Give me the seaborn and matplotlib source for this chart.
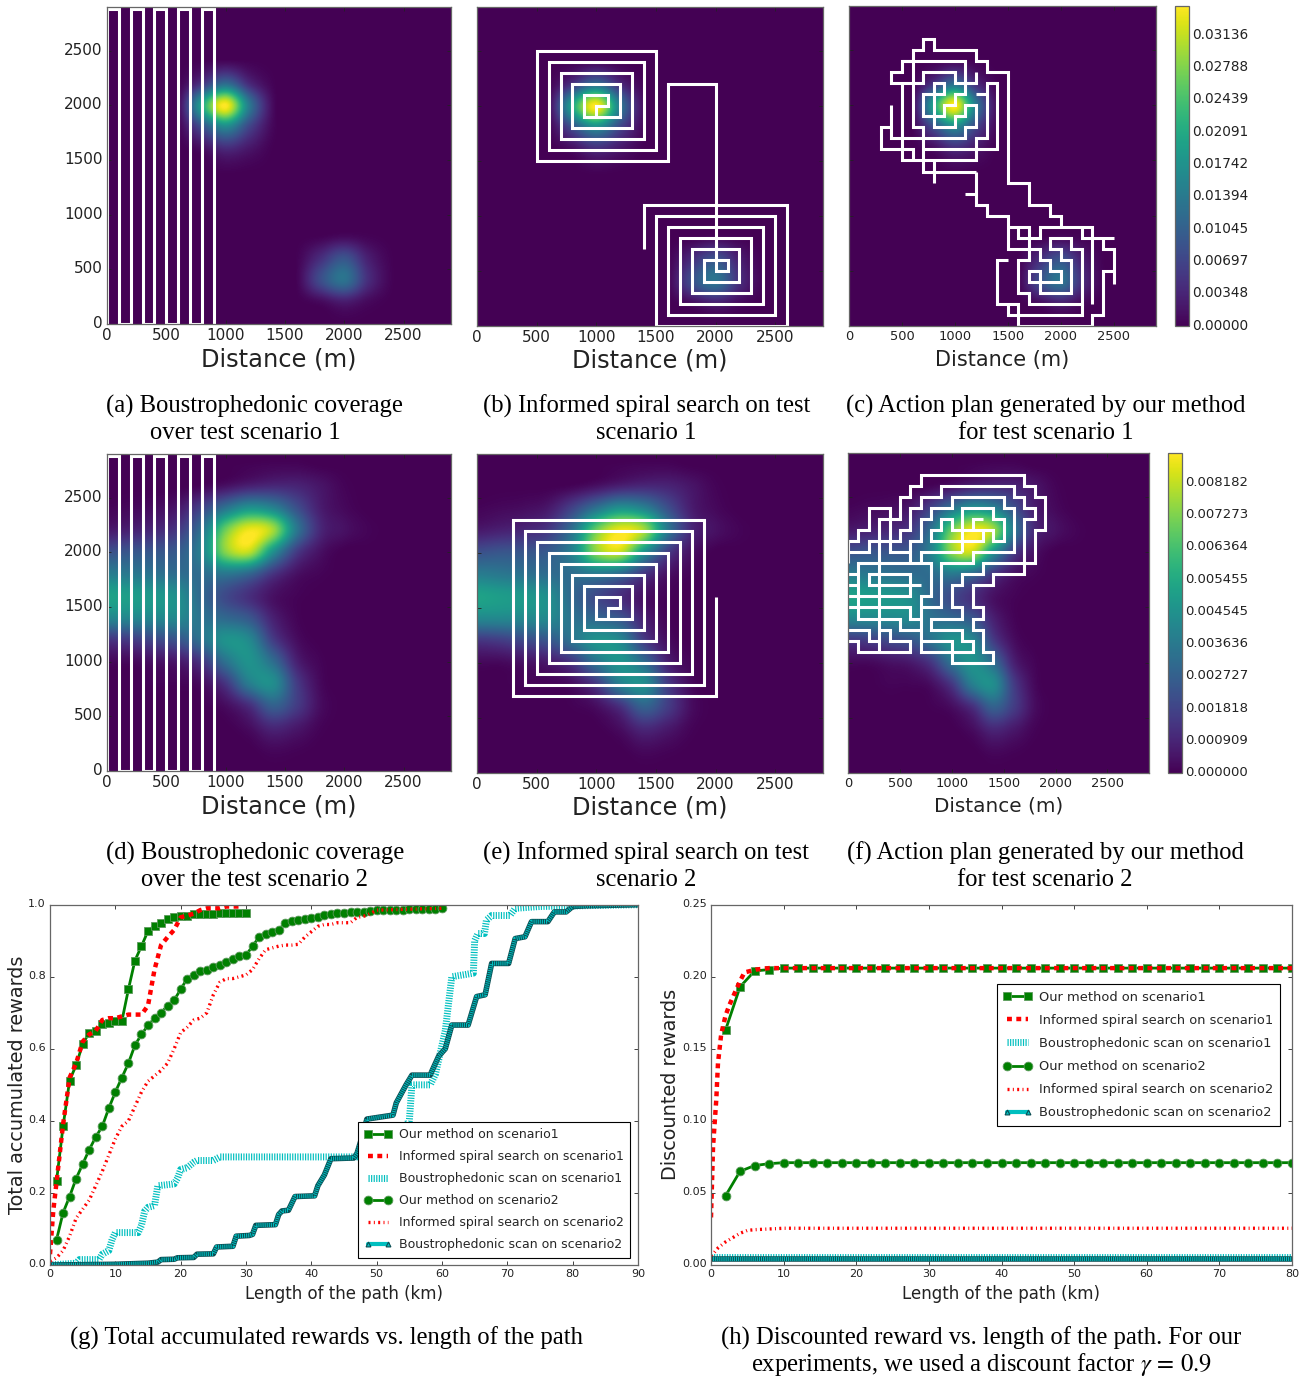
import numpy as np
import matplotlib
matplotlib.use('Agg')
import matplotlib.pyplot as plt
from matplotlib.lines import Line2D
from matplotlib.transforms import ScaledTranslation
import seaborn as sns

W, H = 1310, 1376

# densities on a 200 m grid, rows from y=2800 down to y=0, in units of 1e-3
field_1 = np.array([
    [0, 0, 0, 0, 0, 0, 0, 0, 0, 0, 0, 0, 0, 0, 0],
    [0, 0, 0, 0, 0, 0, 0, 0, 0, 0, 0, 0, 0, 0, 0],
    [0, 0, 0, 0, 0.2, 0.6, 0.2, 0, 0, 0, 0, 0, 0, 0, 0],
    [0, 0, 0, 0.2, 5, 12, 4, 0.3, 0, 0, 0, 0, 0, 0, 0],
    [0, 0, 0, 0.6, 20, 34.5, 14, 1, 0, 0, 0, 0, 0, 0, 0],
    [0, 0, 0, 0.3, 8, 16, 7, 0.6, 0, 0, 0, 0, 0, 0, 0],
    [0, 0, 0, 0, 1, 4, 2, 0.1, 0, 0, 0, 0, 0, 0, 0],
    [0, 0, 0, 0, 0, 0.3, 0.1, 0, 0, 0, 0, 0, 0, 0, 0],
    [0, 0, 0, 0, 0, 0, 0, 0, 0, 0, 0, 0, 0, 0, 0],
    [0, 0, 0, 0, 0, 0, 0, 0, 0, 0, 0, 0, 0, 0, 0],
    [0, 0, 0, 0, 0, 0, 0, 0, 0, 0.2, 0.8, 0.3, 0, 0, 0],
    [0, 0, 0, 0, 0, 0, 0, 0, 0.2, 4.5, 9, 3, 0.2, 0, 0],
    [0, 0, 0, 0, 0, 0, 0, 0, 0.3, 8, 13, 4.5, 0.3, 0, 0],
    [0, 0, 0, 0, 0, 0, 0, 0, 0, 0.8, 2.5, 0.8, 0, 0, 0],
    [0, 0, 0, 0, 0, 0, 0, 0, 0, 0, 0, 0, 0, 0, 0],
])
field_2 = np.array([
    [0, 0, 0, 0, 0, 0, 0.05, 0.1, 0.1, 0, 0, 0, 0, 0, 0],
    [0, 0, 0, 0, 0.1, 0.4, 0.8, 1.0, 0.9, 0.5, 0.1, 0, 0, 0, 0],
    [0.1, 0.2, 0.3, 0.6, 1.8, 3.4, 4.6, 4.0, 2.2, 0.7, 0.2, 0, 0, 0, 0],
    [0.6, 0.8, 1.0, 1.5, 3.4, 7.0, 8.8, 7.8, 3.6, 1.0, 0.4, 0.1, 0, 0, 0],
    [2.2, 2.4, 2.4, 2.6, 4.0, 7.4, 8.2, 4.6, 1.6, 0.4, 0, 0, 0, 0, 0],
    [3.8, 3.6, 3.4, 3.2, 3.2, 3.6, 3.0, 1.4, 0.4, 0.1, 0, 0, 0, 0, 0],
    [5.2, 5.0, 4.8, 4.4, 3.0, 2.0, 1.2, 0.4, 0.1, 0, 0, 0, 0, 0, 0],
    [4.2, 4.2, 4.2, 4.2, 3.4, 3.0, 2.4, 0.8, 0.1, 0, 0, 0, 0, 0, 0],
    [1.4, 1.6, 2.0, 2.4, 3.4, 4.6, 4.2, 1.6, 0.3, 0, 0, 0, 0, 0, 0],
    [0.2, 0.2, 0.4, 0.6, 1.4, 3.4, 4.6, 3.2, 0.8, 0.1, 0, 0, 0, 0, 0],
    [0, 0, 0.1, 0.1, 0.3, 1.4, 3.8, 4.4, 1.6, 0.2, 0, 0, 0, 0, 0],
    [0, 0, 0, 0, 0.05, 0.3, 1.2, 2.8, 1.6, 0.3, 0, 0, 0, 0, 0],
    [0, 0, 0, 0, 0, 0, 0.3, 1.0, 0.6, 0.1, 0, 0, 0, 0, 0],
    [0, 0, 0, 0, 0, 0, 0, 0.2, 0.1, 0, 0, 0, 0, 0, 0],
    [0, 0, 0, 0, 0, 0, 0, 0, 0, 0, 0, 0, 0, 0, 0],
])

# robot paths, in units of 100 m
boustro_path = [[(0, 28.8), (1, 28.8), (1, 0), (2, 0), (2, 28.8), (3, 28.8), (3, 0), (4, 0), (4, 28.8),
                 (5, 28.8), (5, 0), (6, 0), (6, 28.8), (7, 28.8), (7, 0), (8, 0), (8, 28.8), (9, 28.8), (9, 0)],
                [(0, 0), (0, 28.8)]]
spiral_1 = [[(14, 7), (14, 11), (26, 11), (26, 0), (15, 0), (15, 10), (25, 10), (25, 1), (16, 1), (16, 9), (24, 9),
             (24, 2), (17, 2), (17, 8), (23, 8), (23, 3), (18, 3), (18, 7), (22, 7), (22, 4), (19, 4), (19, 6),
             (21, 6), (21, 5), (20, 5), (20, 22), (16, 22), (16, 15), (5, 15), (5, 25), (15, 25), (15, 16), (6, 16),
             (6, 24), (14, 24), (14, 17), (7, 17), (7, 23), (13, 23), (13, 18), (8, 18), (8, 22), (12, 22), (12, 19),
             (9, 19), (9, 21), (11, 21), (11, 20), (10, 20), (10, 19)]]
spiral_2 = [[(20, 16), (20, 7), (3, 7), (3, 23), (19, 23), (19, 8), (4, 8), (4, 22), (18, 22), (18, 9), (5, 9),
             (5, 21), (17, 21), (17, 10), (6, 10), (6, 20), (16, 20), (16, 11), (7, 11), (7, 19), (15, 19), (15, 12),
             (8, 12), (8, 18), (14, 18), (14, 13), (9, 13), (9, 17), (13, 17), (13, 14), (10, 14), (10, 16), (12, 16),
             (12, 15), (11, 15), (11, 14)]]
plan_1 = [[(11, 12), (12, 12)],
          [(12, 14), (12, 11), (13, 11), (13, 10), (15, 10), (15, 7), (18, 7), (18, 6), (19, 6), (19, 5), (20, 5),
           (20, 4), (17, 4), (17, 5), (18, 5), (18, 3), (21, 3), (21, 6), (20, 6), (20, 7), (19, 7), (19, 8), (21, 8),
           (21, 7), (22, 7), (22, 2), (17, 2), (17, 3), (16, 3), (16, 6), (17, 6), (17, 9), (15, 9)],
          [(16, 9), (16, 8), (18, 8), (18, 9), (23, 9), (23, 2)],
          [(22, 9), (22, 8), (25, 8)],
          [(24, 8), (24, 7), (25, 7), (25, 3.8)],
          [(25, 5), (24, 5), (24, 1), (23, 1), (23, 0), (16, 0), (16, 2), (14, 2), (14, 6), (15, 6)],
          [(15, 2), (15, 1), (22, 1), (22, 2)],
          [(20, 9), (20, 10), (19, 10), (19, 11), (17, 11), (17, 13), (15, 13), (15, 23), (13, 23), (13, 24), (12, 24),
           (12, 25), (8, 25), (8, 26), (7, 26), (7, 25), (6, 25), (6, 24), (5, 24), (5, 23), (4, 23), (4, 22), (7, 22),
           (7, 23), (10, 23), (10, 22), (12, 22), (12, 23)],
          [(5, 24), (11, 24), (11, 21), (10, 21), (10, 20), (9, 20), (9, 19), (7, 19), (7, 21), (9, 21), (9, 22),
           (8, 22), (8, 18), (10, 18), (10, 19), (11, 19), (11, 20), (12, 20), (12, 18), (11, 18), (11, 17), (4, 17),
           (4, 20)],
          [(6, 24), (6, 18), (7, 18), (7, 14), (12, 14)],
          [(8, 15), (8, 13)],
          [(5, 22), (5, 15), (12, 15), (12, 17), (13, 17), (13, 22), (14, 22), (14, 16), (7, 16)],
          [(6, 15), (6, 16), (3, 16), (3, 18), (4, 18)],
          [(12, 21), (13, 21)]]
plan_2 = [[(0, 19), (0, 21), (1, 21), (1, 22), (2, 22), (2, 24), (4, 24), (4, 23), (5, 23), (5, 25), (6, 25), (6, 26),
           (7, 26), (7, 27), (17, 27), (17, 26), (18, 26), (18, 25), (19, 25), (19, 22), (18, 22), (18, 19), (13, 19),
           (13, 18), (11, 18), (11, 17), (10, 17), (10, 15), (11, 15), (11, 14), (8, 14), (8, 13), (11, 13), (11, 12),
           (12, 12), (12, 11), (10, 11)],
          [(3, 11), (3, 23), (4, 23), (4, 20), (6, 20), (6, 19)],
          [(0, 20), (2, 20), (2, 21), (5, 21), (5, 22), (6, 22), (6, 24), (7, 24), (7, 25), (9, 25), (9, 26), (16, 26),
           (16, 25), (17, 25), (17, 24), (18, 24), (18, 23), (17, 23), (17, 18), (14, 18), (14, 17), (12, 17), (12, 15),
           (13, 15), (13, 14), (12, 14), (12, 13), (13, 13), (13, 11), (14, 11), (14, 10), (10, 10), (10, 11), (7, 11),
           (7, 16), (8, 16), (8, 19), (1, 19), (1, 14), (3, 14)],
          [(7, 19), (7, 20), (11, 20)],
          [(6, 20), (6, 21), (7, 21), (7, 23), (8, 23), (8, 24), (10, 24), (10, 25), (15, 25), (15, 24), (16, 24),
           (16, 20), (12, 20), (12, 19), (9, 19), (9, 15), (7, 15)],
          [(11, 20), (11, 24), (14, 24), (14, 23), (15, 23), (15, 21), (14, 21), (14, 22), (12, 22), (12, 23), (13, 23)],
          [(14, 22), (13, 22), (13, 21), (8, 21), (8, 22), (9, 22), (9, 23), (10, 23), (10, 22), (12, 22)],
          [(0, 18), (1, 18)],
          [(7, 17), (2, 17), (2, 18), (6, 18), (6, 16), (0, 16)],
          [(0, 17), (1, 17)],
          [(0, 15), (6, 15), (6, 14), (7, 14)],
          [(3, 14), (5, 14), (5, 13), (7, 13)],
          [(3, 13), (4, 13), (4, 12), (6, 12), (6, 11), (1, 11), (1, 12), (0, 12)],
          [(0, 13), (2, 13), (2, 12), (3, 12)],
          [(7, 12), (10, 12), (10, 11)]]

# panel g
our1_x = list(range(1, 31))
our1_y = [.233, .385, .512, .555, .613, .645, .650, .668, .672, .677, .677, .765, .845, .885, .927, .942, .950, .960,
          .965, .968, .970, .973, .975, .975, .975, .976, .977, .978, .978, .978]
spiral1_x = [0, .5, 1, 2, 3, 4, 5, 6, 7, 8, 9, 10, 11, 12, 13, 14, 15, 16, 17, 18, 19, 20, 21, 22, 23, 24, 25, 26, 27,
             28, 29]
spiral1_y = [.03, .15, .23, .39, .52, .56, .62, .64, .65, .68, .685, .685, .69, .695, .695, .695, .72, .82, .888, .91,
             .93, .965, .97, .975, .985, .99, .99, .99, .995, .995, .995]
scan1_x = [0, 4, 4.5, 7.5, 8, 9, 9.5, 10, 13.5, 14, 14.5, 15, 16, 16.5, 19, 19.5, 20, 21, 22, 22.5, 25, 26, 45, 47, 50,
           53, 54, 55, 55.4, 58.2, 59, 60.5, 61.5, 64.8, 65, 65.5, 66.5, 66.8, 67.6, 70.4, 71.2, 75, 90]
scan1_y = [0, .005, .015, .015, .03, .04, .07, .09, .09, .11, .15, .16, .165, .22, .225, .24, .265, .27, .285, .29, .29,
           .30, .30, .30, .32, .33, .38, .40, .50, .50, .53, .65, .80, .81, .90, .92, .92, .957, .97, .97, .99, .995, 1.0]
our2_x = list(range(1, 61))
our2_y = [.07, .145, .19, .24, .28, .32, .355, .385, .435, .48, .52, .56, .61, .64, .665, .685, .70, .72, .735, .765,
          .795, .805, .815, .82, .827, .832, .84, .85, .857, .86, .885, .91, .92, .925, .93, .95, .955, .958, .96, .962,
          .965, .972, .975, .977, .978, .98, .98, .98, .982, .985, .985, .985, .986, .986, .987, .987, .988, .988, .989,
          .99]
spiral2_x = list(range(0, 51)) + [60]
spiral2_y = [.01, .02, .04, .08, .13, .155, .18, .22, .26, .305, .35, .385, .40, .44, .48, .51, .525, .54, .56, .60, .645,
             .66, .68, .685, .70, .75, .785, .795, .795, .80, .805, .82, .85, .875, .88, .885, .888, .888, .89, .91, .925,
             .94, .945, .945, .95, .95, .95, .965, .968, .975, .985, .99]
scan2_x = [0, 10, 15, 16.5, 17, 19, 19.5, 22, 22.5, 25, 25.5, 28, 28.5, 30.5, 31, 31.5, 34.5, 35, 35.5, 36.5, 37.5, 40.5,
           41, 42, 43, 46.5, 47, 48, 48.5, 52.5, 53, 54.5, 55.4, 58.2, 58.5, 59.5, 60.5, 61.5, 64, 65.3, 66.6, 67.6, 70.2,
           71.2, 72.7, 73.7, 76.2, 77.2, 79, 80, 82, 90]
scan2_y = [0, .002, .005, .008, .015, .016, .02, .021, .03, .031, .05, .052, .08, .082, .085, .11, .112, .14, .15, .152,
           .19, .192, .22, .25, .295, .297, .31, .37, .405, .416, .45, .50, .527, .527, .54, .58, .60, .666, .666, .745,
           .75, .837, .837, .906, .911, .953, .953, .98, .98, .995, .997, 1.0]

# panel h
d_our1_x = list(range(2, 81, 2))
d_our1_y = [.163, .193, .204, .205] + [.206] * 36
d_spiral1_x = [0, .28, .73, .96, 1.4, 2, 2.5, 3.9, 4.6, 6.2, 8, 80]
d_spiral1_y = [.033, .082, .115, .14, .16, .173, .18, .196, .203, .205, .206, .206]
d_scan1_x = [0, 80]
d_scan1_y = [.0055, .0055]
d_our2_x = list(range(2, 81, 2))
d_our2_y = [.048, .065, .069, .0703] + [.071] * 36
d_spiral2_x = [0, 1, 2, 3, 4, 5, 6, 8, 10, 80]
d_spiral2_y = [.006, .012, .016, .019, .022, .024, .0245, .025, .0255, .0255]
d_scan2_x = [0, 80]
d_scan2_y = [.0045, .0045]

heat_ticks = [0, 500, 1000, 1500, 2000, 2500]
cbar1_ticks = [0, .00348, .00697, .01045, .01394, .01742, .02091, .02439, .02788, .03136]
cbar1_labels = ['0.00000', '0.00348', '0.00697', '0.01045', '0.01394', '0.01742', '0.02091', '0.02439', '0.02788',
                '0.03136']
cbar2_ticks = [0, .000909, .001818, .002727, .003636, .004545, .005455, .006364, .007273, .008182]
cbar2_labels = ['0.000000', '0.000909', '0.001818', '0.002727', '0.003636', '0.004545', '0.005455', '0.006364',
                '0.007273', '0.008182']

method_names = ['Our method on scenario1', 'Informed spiral search on scenario1', 'Boustrophedonic scan on scenario1',
                'Our method on scenario2', 'Informed spiral search on scenario2', 'Boustrophedonic scan on scenario2']

captions = [
    ('(a) Boustrophedonic coverage', 254.5, 406.5), ('over test scenario 1', 245, 433),
    ('(b) Informed spiral search on test', 647, 406.5), ('scenario 1', 646, 433),
    ('(c) Action plan generated by our method', 1046, 406.5), ('for test scenario 1', 1046, 433),
    ('(d) Boustrophedonic coverage', 255, 853.5), ('over the test scenario 2', 254, 880),
    ('(e) Informed spiral search on test', 646, 853.5), ('scenario 2', 646, 880),
    ('(f) Action plan generated by our method', 1045, 853.5), ('for test scenario 2', 1045, 880),
    ('(g) Total accumulated rewards vs. length of the path', 327, 1338),
    ('(h) Discounted reward vs. length of the path. For our', 981, 1338),
    (r'experiments, we used a discount factor $\gamma\,=\,0.9$', 981, 1364),
]

sns.set_style('white')
plt.rcParams['font.family'] = ['DejaVu Sans']
plt.rcParams['mathtext.fontset'] = 'stix'
plt.rcParams['xtick.direction'] = 'in'
plt.rcParams['ytick.direction'] = 'in'
plt.rcParams['axes.edgecolor'] = '#666666'
plt.rcParams['axes.linewidth'] = 0.9

fig = plt.figure(figsize=(W / 100, H / 100), dpi=100)
lift = ScaledTranslation(0, 2 / 100, fig.dpi_scale_trans)


def add_axes(left, right, top, bottom):
    return fig.add_axes([left / W, 1 - bottom / H, (right - left) / W, (bottom - top) / H])


def raise_ylabels(ax):
    # y tick labels sit about 2 px above their ticks
    for lab in ax.get_yticklabels():
        lab.set_transform(lab.get_transform() + lift)


def heat_panel(box, field, vmax, paths, tick_size, label_size, label_pad, show_y):
    ax = add_axes(*box)
    im = ax.imshow(field * 1e-3, cmap='viridis', vmin=0, vmax=vmax, extent=(-100, 2900, -100, 2900),
                   interpolation='catrom', aspect='auto')
    for path in paths:
        p = np.array(path) * 100
        ax.plot(p[:, 0], p[:, 1], color='white', lw=2.2, solid_joinstyle='miter', solid_capstyle='butt')
    ax.set_xlim(0, 2900)
    ax.set_ylim(0, 2900)
    ax.set_xticks(heat_ticks)
    ax.set_yticks(heat_ticks)
    ax.tick_params(top=True, right=True, bottom=True, left=True, length=3, width=0.6, color='#222222',
                   labelsize=tick_size, labelcolor='#222222', pad=3, labelleft=show_y)
    ax.set_xlabel('Distance (m)', fontsize=label_size, color='#222222', labelpad=label_pad)
    raise_ylabels(ax)
    return ax, im


def add_cbar(box, im, ticks, labels, size):
    cax = add_axes(*box)
    cb = fig.colorbar(im, cax=cax)
    cb.set_ticks(ticks)
    cb.set_ticklabels(labels)
    cax.tick_params(direction='in', right=True, left=False, length=3, width=0.6, color='#222222', labelsize=size,
                    labelcolor='#222222', pad=2)
    raise_ylabels(cax)


heat_panel((107, 451, 7, 324), field_1, .0345, boustro_path, 11, 17.4, 2.8, True)
heat_panel((477, 823, 7, 326), field_1, .0345, spiral_1, 11, 17.4, 2.3, False)
_, im1 = heat_panel((849, 1156, 6, 326), field_1, .0345, plan_1, 9.4, 15, 5, False)
add_cbar((1175, 1189, 6, 326), im1, cbar1_ticks, cbar1_labels, 9.8)
heat_panel((107, 451, 454, 771), field_2, .00903, boustro_path, 11, 17.4, 2.8, True)
heat_panel((477, 823, 454, 773), field_2, .00903, spiral_2, 11, 17.4, 2.3, False)
_, im2 = heat_panel((848, 1149, 453, 773), field_2, .00903, plan_2, 9.4, 14.4, 4.3, False)
add_cbar((1168, 1182, 453, 773), im2, cbar2_ticks, cbar2_labels, 9.5)

GREEN = (0, .5, 0)
TEAL = '#00bfbf'
DARK = '#0b4c52'
scan_style = dict(color=TEAL, lw=5, linestyle=(0, (0.17, 0.2)), dash_capstyle='butt')
scan2_style = dict(color=TEAL, lw=3.0, linestyle=(0, (0.25, 0.25)), dash_capstyle='butt')
spiral1_style = dict(color='red', lw=3.2, linestyle=(0, (1.1, 1.0)), dash_capstyle='butt')
spiral2_style = dict(color='red', lw=2.4, linestyle=(0, (0.6, 1.0, 0.3, 1.0)), dash_capstyle='butt')
our1_style = dict(color=GREEN, lw=2, marker='s', ms=5.9, mfc=GREEN, mec='#5c9a5c', mew=0.6)
our2_style = dict(color=GREEN, lw=2, marker='o', ms=6.3, mfc=GREEN, mec='#5c9a5c', mew=0.6)


def draw_lines(ax, series):
    for (x, y, style), name in zip(series, method_names):
        if name == method_names[5]:
            # dark casing under the last series
            sns.lineplot(x=x, y=y, ax=ax, estimator=None, sort=False, color=DARK, lw=4.0, legend=False)
        sns.lineplot(x=x, y=y, ax=ax, estimator=None, sort=False, label=name, **style)


def finish_lines(ax, xmax, ymax, xticks, yticks, yfmt, ylabel, ylabel_x, legend_xy, legend_size, spacing):
    ax.set_xlim(0, xmax)
    ax.set_ylim(0, ymax)
    ax.set_xticks(xticks)
    ax.set_yticks(yticks)
    ax.set_yticklabels([yfmt % v for v in yticks])
    ax.tick_params(top=True, right=True, bottom=True, left=True, length=3, width=0.6, color='#222222', labelsize=8,
                   labelcolor='#222222', pad=3)
    raise_ylabels(ax)
    ax.set_xlabel('Length of the path (km)', fontsize=12, color='#222222', labelpad=4)
    ax.set_ylabel(ylabel, fontsize=13.9, color='#222222')
    ax.yaxis.set_label_coords(ylabel_x, 0.5)
    handles, labels = ax.get_legend_handles_labels()
    order = [labels.index(n) for n in method_names]
    handles = [handles[i] for i in order]
    handles[5] = Line2D([], [], color=TEAL, lw=3, marker='^', ms=3.5, mfc=TEAL, mec=DARK, mew=0.8)
    leg = ax.legend(handles, method_names, loc='upper left',
                    bbox_to_anchor=(legend_xy[0] / W, 1 - legend_xy[1] / H), bbox_transform=fig.transFigure,
                    borderaxespad=0, fontsize=legend_size, frameon=True, fancybox=False, framealpha=1,
                    edgecolor='black', labelspacing=spacing, handlelength=2.2, handletextpad=0.55, numpoints=2,
                    borderpad=0.5)
    leg.get_frame().set_linewidth(0.8)
    leg.set_zorder(10)


ax_g = add_axes(50, 638, 904.7, 1265)
draw_lines(ax_g, [(our1_x, our1_y, our1_style), (spiral1_x, spiral1_y, spiral1_style), (scan1_x, scan1_y, scan_style),
                  (our2_x, our2_y, our2_style), (spiral2_x, spiral2_y, spiral2_style), (scan2_x, scan2_y, scan2_style)])
finish_lines(ax_g, 90, 1.0, list(range(0, 91, 10)), [0, .2, .4, .6, .8, 1.0], '%.1f', 'Total accumulated rewards',
             -0.039, (358, 1122), 9.0, 0.72)

ax_h = add_axes(711, 1292, 904.7, 1265)
draw_lines(ax_h, [(d_our1_x, d_our1_y, our1_style), (d_spiral1_x, d_spiral1_y, spiral1_style),
                  (d_scan1_x, d_scan1_y, scan_style), (d_our2_x, d_our2_y, our2_style),
                  (d_spiral2_x, d_spiral2_y, spiral2_style), (d_scan2_x, d_scan2_y, scan2_style)])
finish_lines(ax_h, 80, .25, list(range(0, 81, 10)), [0, .05, .10, .15, .20, .25], '%.2f', 'Discounted rewards',
             -0.0534, (997, 984), 9.4, 0.78)

for text, x, y in captions:
    fig.text(x / W, 1 - y / H, text, ha='center', va='center', fontsize=17.7, family='Liberation Serif', color='black')

fig.savefig('out.png', dpi=100)
